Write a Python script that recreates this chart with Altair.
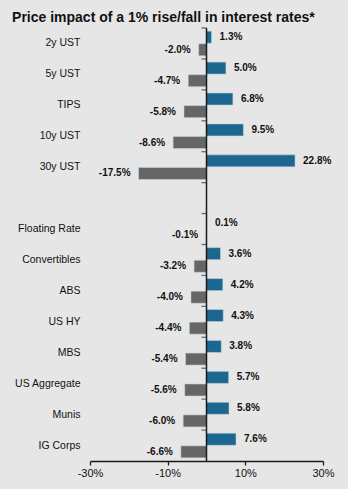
import altair as alt
import pandas as pd

categories = ["2y UST", "5y UST", "TIPS", "10y UST", "30y UST", " ",
              "Floating Rate", "Convertibles", "ABS", "US HY", "MBS",
              "US Aggregate", "Munis", "IG Corps"]
fall_in_rates = [1.3, 5.0, 6.8, 9.5, 22.8, None, 0.1, 3.6, 4.2, 4.3, 3.8, 5.7, 5.8, 7.6]
rise_in_rates = [-2.0, -4.7, -5.8, -8.6, -17.5, None, -0.1, -3.2, -4.0, -4.4, -5.4, -5.6, -6.0, -6.6]
x_ticks = [-30, -10, 10, 30]
zero_value = [0]
series_names = ["1% fall", "1% rise"]
series_colors = ["#1b6790", "#666666"]
LINE = "#1a1a1a"

rows = []
for c, f, r in zip(categories, fall_in_rates, rise_in_rates):
    if f is not None:
        rows.append({"cat": c, "series": series_names[0], "value": f})
    if r is not None:
        rows.append({"cat": c, "series": series_names[1], "value": r})
df = pd.DataFrame(rows)
df["label"] = df["value"].map(lambda v: f"{v:.1f}%")
cat_df = pd.DataFrame({"cat": categories, "zero": zero_value * len(categories)})
zero_df = pd.DataFrame({"zero": zero_value})

FONT = "Liberation Sans"
yscale = alt.Scale(domain=categories, paddingInner=0, paddingOuter=0)
xscale = alt.Scale(domain=[-30, 30], nice=False, zero=False)
yoff = alt.YOffset("series:N", scale=alt.Scale(domain=series_names, paddingInner=0.05, paddingOuter=0.25))

base = alt.Chart(df)

bars = base.mark_bar(stroke="#c8d3da", strokeWidth=0.8, strokeOpacity=0.7).encode(
    x=alt.X("value:Q", scale=xscale,
            axis=alt.Axis(values=x_ticks, labelExpr="datum.value + '%'", grid=False,
                          domainColor=LINE, domainWidth=1.5,
                          tickColor=LINE, tickSize=4, tickWidth=1.3,
                          labelFontSize=11, labelPadding=2, labelColor="#111",
                          labelFlush=False, title=None, labelFont=FONT)),
    y=alt.Y("cat:N", scale=yscale,
            axis=alt.Axis(ticks=False, domain=False, labelPadding=10, labelFontSize=10.5,
                          labelColor="#111", title=None, labelFont=FONT)),
    yOffset=yoff,
    color=alt.Color("series:N", scale=alt.Scale(domain=series_names, range=series_colors), legend=None),
)

pos_text = base.transform_filter(alt.datum.series == series_names[0]).mark_text(
    align="left", baseline="middle", dx=8, fontSize=10, fontWeight="bold", font=FONT, color="#111"
).encode(x=alt.X("value:Q", scale=xscale), y=alt.Y("cat:N", scale=yscale), yOffset=yoff, text="label:N")

neg_text = base.transform_filter(alt.datum.series == series_names[1]).mark_text(
    align="right", baseline="middle", dx=-8, fontSize=10, fontWeight="bold", font=FONT, color="#111"
).encode(x=alt.X("value:Q", scale=xscale), y=alt.Y("cat:N", scale=yscale), yOffset=yoff, text="label:N")

zero_line = alt.Chart(zero_df).mark_rule(stroke=LINE, strokeWidth=1.5).encode(
    x=alt.X("zero:Q", scale=xscale)
)

band_ticks = alt.Chart(cat_df).mark_tick(orient="horizontal", size=5, thickness=1.3,
                                         xOffset=-2.5, color="#333333").encode(
    x=alt.X("zero:Q", scale=xscale),
    y=alt.Y("cat:N", scale=yscale, bandPosition=0),
)

chart = alt.layer(bars, pos_text, neg_text, zero_line, band_ticks).properties(
    width=233, height=433,
    autosize=alt.AutoSizeParams(type="none"),
    padding={"left": 90, "top": 28, "right": 25, "bottom": 28},
    background="#e6e6e6",
    title=alt.Title("Price impact of a 1% rise/fall in interest rates*", anchor="start",
                    fontSize=14, fontWeight="bold", font=FONT, color="#111",
                    dx=-2, dy=17, offset=8, baseline="alphabetic"),
).configure_view(stroke=None)

chart.save("out.html", embed_options={"renderer": "svg", "actions": False})
